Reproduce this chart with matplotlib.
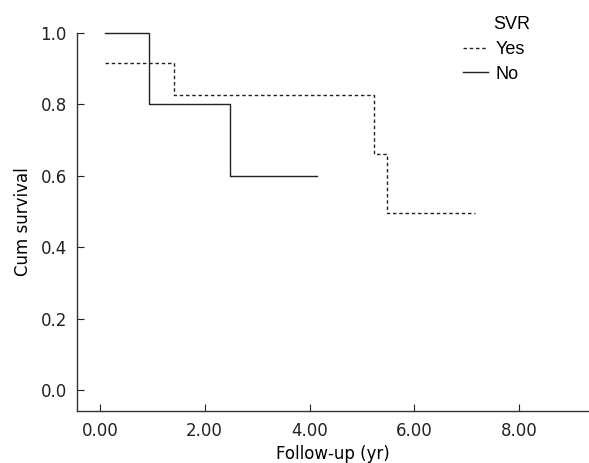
import matplotlib.pyplot as plt
from matplotlib.lines import Line2D

# Kaplan-Meier steps (time in years, cum survival)
yes_time = [0.10, 1.41, 5.22, 5.47, 7.15]
yes_surv = [0.917, 0.825, 0.66, 0.495, 0.495]
no_time = [0.10, 0.94, 2.49, 4.15]
no_surv = [1.0, 0.8, 0.6, 0.6]

x_ticks = [0, 2, 4, 6, 8]
x_labels = ["0.00", "2.00", "4.00", "6.00", "8.00"]
y_ticks = [0.0, 0.2, 0.4, 0.6, 0.8, 1.0]

fig = plt.figure(figsize=(5.89, 4.63), dpi=100)
ax = fig.add_axes([0.1312, 0.113, 0.8688, 0.8157])

ax.step(yes_time, yes_surv, where="post", color="#222222", lw=1.0,
        linestyle=(0, (2.5, 2)), clip_on=False)
ax.step(no_time, no_surv, where="post", color="#222222", lw=1.0, clip_on=False)

ax.set_xlim(-0.43, 9.33)
ax.set_ylim(-0.058, 1.0)
ax.set_xticks(x_ticks)
ax.set_xticklabels(x_labels)
ax.set_yticks(y_ticks)
ax.set_yticklabels([f"{v:.1f}" for v in y_ticks])

for side in ("top", "right"):
    ax.spines[side].set_visible(False)
for side in ("left", "bottom"):
    ax.spines[side].set_color("#333333")
    ax.spines[side].set_linewidth(1.0)

ax.tick_params(direction="in", length=5, width=0.8, labelsize=12, colors="#222222")
ax.tick_params(axis="y", pad=7.5)
ax.tick_params(axis="x", pad=8)
ax.set_xlabel("Follow-up (yr)", fontsize=12, labelpad=4)
ax.set_ylabel("Cum survival", fontsize=12, labelpad=6)

# legend without frame, title sits over the labels
handles = [Line2D([], [], color="#222222", lw=1.0, linestyle=(0, (2.5, 2))),
           Line2D([], [], color="#222222", lw=1.0)]
leg = fig.legend(handles, ["Yes", "No"], title="SVR", loc="upper left",
                 bbox_to_anchor=(0.771, 0.985), frameon=False, handlelength=1.4,
                 handletextpad=0.4, labelspacing=0.4, borderpad=0,
                 prop={"family": "Liberation Sans", "size": 13},
                 title_fontproperties={"family": "Liberation Sans", "size": 13})
leg._legend_box.align = "left"
leg._legend_box.sep = 6
leg.get_title().set_position((30, 0))

fig.savefig("out.png", dpi=100)
